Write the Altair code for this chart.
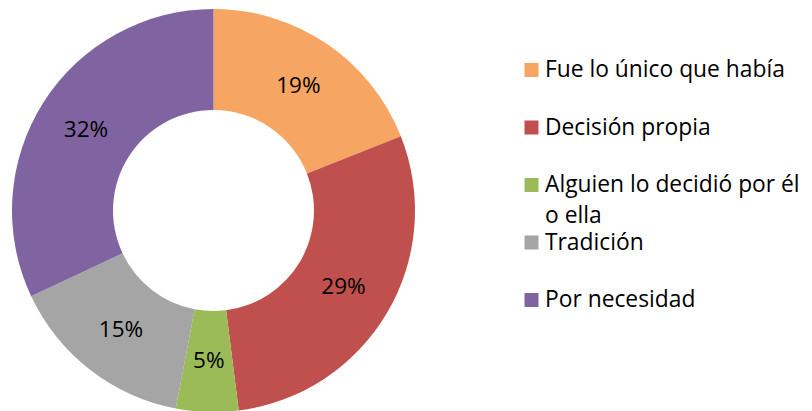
import altair as alt
import pandas as pd

categories = ["Fue lo único que había", "Decisión propia", "Alguien lo decidió por él o ella",
              "Tradición", "Por necesidad"]
legend_labels = ["Fue lo único que había", "Decisión propia", "Alguien lo decidió por él\no ella",
                 "Tradición", "Por necesidad"]
values = [19, 29, 5, 15, 32]
colors = ["#F6A563", "#C0504D", "#9BBB59", "#A5A5A5", "#8064A2"]

df = pd.DataFrame({
    "cat": categories,
    "value": values,
    "idx": list(range(len(categories))),
    "pct": [f"{v}%" for v in values],
    "leg": legend_labels,
})

CX, CY = 205.5, 202.5
color = alt.Color("cat:N", scale=alt.Scale(domain=categories, range=colors), legend=None)
theta = alt.Theta("value:Q", stack=True)
order = alt.Order("idx:Q")

base = alt.Chart(df)

ring = base.mark_arc(innerRadius=100.5, outerRadius=201.5).encode(
    theta=theta, color=color, order=order, x=alt.value(CX), y=alt.value(CY)
)

pct = base.mark_text(radius=151, fontSize=22.5, font="Open Sans", color="#000000").encode(
    theta=theta, text="pct:N", order=order, x=alt.value(CX), y=alt.value(CY)
)

ys = alt.Y("cat:N", scale=alt.Scale(type="point", domain=categories, range=[62, 292], padding=0), axis=None)

squares = base.mark_square(size=196, opacity=1).encode(
    x=alt.value(523.5), y=ys, color=color
)

leg_text = base.mark_text(align="left", baseline="middle", fontSize=22.8, font="Open Sans",
                          lineBreak="\n", lineHeight=31, color="#000000").encode(
    x=alt.value(537), y=ys, text="leg:N"
)

chart = alt.layer(ring, pct, squares, leg_text).properties(
    width=796, height=403, autosize=alt.AutoSizeParams(type="none"), padding=0
).configure_view(stroke=None)

chart.save("out.html", embed_options={"renderer": "svg", "actions": False})
